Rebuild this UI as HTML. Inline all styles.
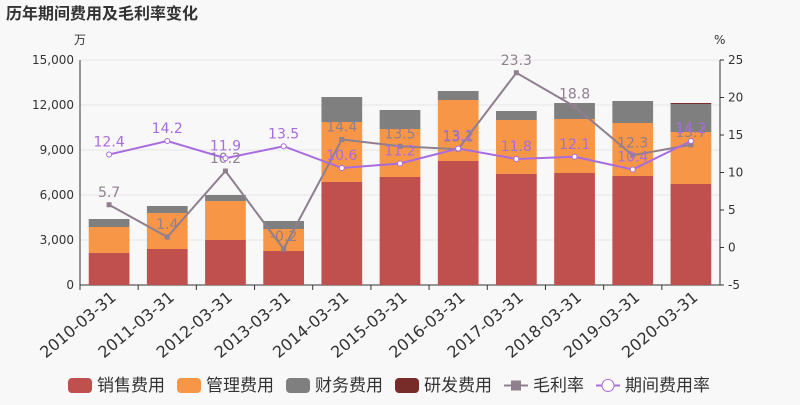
<!DOCTYPE html>
<html><head><meta charset="utf-8"><style>
body{margin:0;background:#f8f8f8;font-family:"Liberation Sans","DejaVu Sans","Noto Sans CJK SC",sans-serif}
svg text{font-family:"DejaVu Sans","Noto Sans CJK SC",sans-serif}
</style></head><body>
<svg id="c" width="800" height="400" xmlns="http://www.w3.org/2000/svg">
<rect width="800" height="400" fill="#f8f8f8"/>
<text x="6" y="19" font-size="16" font-weight="bold" fill="#333">历年期间费用及毛利率变化</text>
<text x="74" y="44" font-size="12" fill="#333">万</text>
<text x="714" y="44" font-size="12" fill="#333">%</text>
<g id="g"></g>
</svg>
<script>
const categories=["2010-03-31","2011-03-31","2012-03-31","2013-03-31","2014-03-31","2015-03-31","2016-03-31","2017-03-31","2018-03-31","2019-03-31","2020-03-31"];
const sales=[2133,2400,3000,2267,6867,7200,8267,7400,7467,7267,6733];
const mgmt=[1734,2400,2600,1466,4000,3200,4066,3600,3600,3533,3467];
const fin=[533,467,400,534,1666,1267,600,600,1066,1467,1867];
const rnd=[0,0,0,0,0,0,0,0,0,0,66];
const gross=[5.7,1.4,10.2,-0.2,14.4,13.5,13.1,23.3,18.8,12.3,13.7];
const expRate=[12.4,14.2,11.9,13.5,10.6,11.2,13.2,11.8,12.1,10.4,14.2];
const leftTicks=[0,3000,6000,9000,12000,15000];
const rightTicks=[-5,0,5,10,15,20,25];
const X0=80,X1=720,YT=60,YB=285;
const bw=(X1-X0)/categories.length;
const xc=i=>X0+bw*(i+0.5);
const yl=v=>YB-(v/15000)*(YB-YT);
const yr=v=>YB-((v+5)/30)*(YB-YT);
const g=document.getElementById('g');
const NS="http://www.w3.org/2000/svg";
function mk(t,a,p){const e=document.createElementNS(NS,t);for(const k in a)e.setAttribute(k,a[k]);(p||g).appendChild(e);return e;}
leftTicks.forEach(v=>{
 const l=mk('line',{x1:X0,x2:X1,y1:yl(v),y2:yl(v),stroke:'#e6e6e6'});
 
 
 const t=mk('text',{x:X0-6,y:yl(v)+4,'text-anchor':'end','font-size':12,fill:'#333'});
 t.textContent=v.toLocaleString('en-US');
 
 
});
rightTicks.forEach(v=>{
 const t=mk('text',{x:X1+8,y:yr(v)+4,'font-size':12,fill:'#333'});
 t.textContent=v;
 
 
 mk('line',{x1:X1,x2:X1+4,y1:yr(v),y2:yr(v),stroke:'#333'});
});
mk('line',{x1:X0,x2:X0,y1:YT,y2:YB,stroke:'#333'});
mk('line',{x1:X1,x2:X1,y1:YT,y2:YB,stroke:'#333'});
mk('line',{x1:X0,x2:X1,y1:YB,y2:YB,stroke:'#333'});
const series=[[sales,'#c0504d','bar-sales'],[mgmt,'#f79646','bar-management'],[fin,'#7f7f7f','bar-finance'],[rnd,'#772c2a','bar-rnd']];
categories.forEach((c,i)=>{
 let acc=0;
 series.forEach(([arr,col,nm])=>{
  const v=arr[i];if(v<=0)return;
  const r=mk('rect',{x:xc(i)-bw*0.35,width:bw*0.7,y:yl(acc+v),height:yl(acc)-yl(acc+v),fill:col});
  
  
  acc+=v;
 });
 mk('line',{x1:X0+bw*i,x2:X0+bw*i,y1:YB,y2:YB+5,stroke:'#333'});
 const t=mk('text',{transform:`translate(${xc(i)+8},${YB+14}) rotate(-40)`,'text-anchor':'end','font-size':16,fill:'#333'});
 t.textContent=c;
 
 
});
function line(arr,col,nm,circle){
 const p=mk('polyline',{points:arr.map((v,i)=>xc(i)+','+yr(v)).join(' '),fill:'none',stroke:col,'stroke-width':2});
 
 
 arr.forEach((v,i)=>{
  const m=circle?mk('circle',{cx:xc(i),cy:yr(v),r:2.5,fill:'#fff',stroke:col}):mk('rect',{x:xc(i)-2.5,y:yr(v)-2.5,width:5,height:5,fill:col});
  
  
  const t=mk('text',{x:xc(i),y:yr(v)-8,'text-anchor':'middle','font-size':14,fill:col});
  t.textContent=v.toFixed(1);
  
  
 });
}
line(gross,'#8f7f8f','gross-margin',false);
line(expRate,'#a86ce0','expense-rate',true);
const leg=[['销售费用','#c0504d','r'],['管理费用','#f79646','r'],['财务费用','#7f7f7f','r'],['研发费用','#772c2a','r'],['毛利率','#8f7f8f','l'],['期间费用率','#a86ce0','c']];
let lx=68;
leg.forEach(([n,col,k])=>{
 const grp=mk('g',{});
 
 
 if(k==='r')mk('rect',{x:lx,y:378,width:24,height:15,rx:4,fill:col},grp);
 else{mk('line',{x1:lx,x2:lx+24,y1:385.5,y2:385.5,stroke:col,'stroke-width':2},grp);
  if(k==='l')mk('rect',{x:lx+7,y:380.5,width:10,height:10,fill:col},grp);
  else mk('circle',{cx:lx+12,cy:385.5,r:6,fill:'#fff',stroke:col},grp);}
 const t=mk('text',{x:lx+29,y:391,'font-size':17,fill:'#333'},grp);
 t.textContent=n;
 lx+=29+n.length*17+12;
});
</script>
</body></html>
